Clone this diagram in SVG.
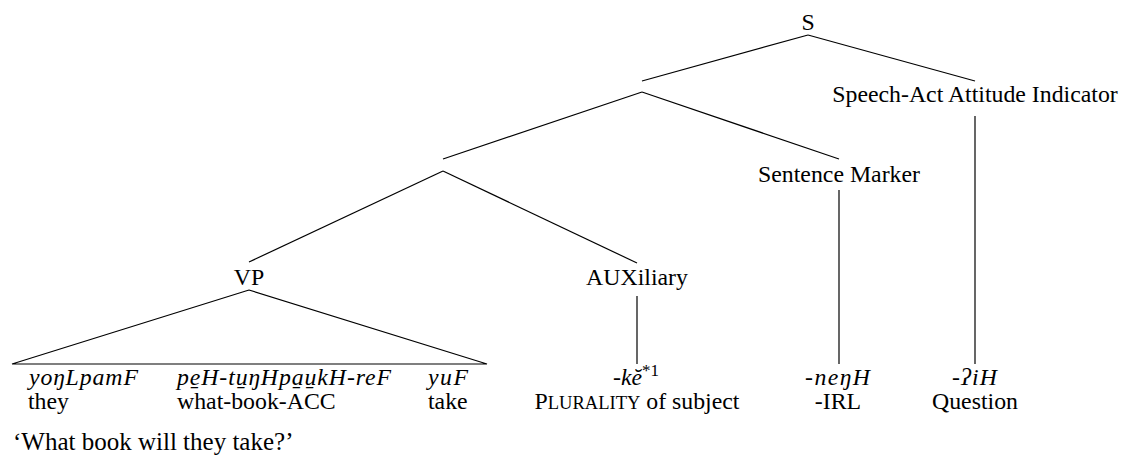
<svg xmlns="http://www.w3.org/2000/svg" width="1130" height="461" viewBox="0 0 1130 461">
<style>
text{font-family:"Liberation Serif","Times New Roman",serif;font-size:23.8px;fill:#000}
.lbl{text-anchor:middle}
.it{font-style:italic}
.ln line, .ln polyline{stroke:#000;stroke-width:1.2;fill:none}
.sc{font-size:18.5px}
.sup{font-size:17px;font-style:normal}
</style>
<rect width="1130" height="461" fill="#fff"/>
<g class="ln" id="connectors">
<line x1="808" y1="35" x2="642" y2="81"/>
<line x1="808" y1="35" x2="975" y2="81"/>
<line x1="642" y1="92" x2="443" y2="159"/>
<line x1="642" y1="92" x2="839" y2="159"/>
<line x1="443" y1="171" x2="249" y2="262"/>
<line x1="443" y1="171" x2="637" y2="263"/>
<line x1="975" y1="116" x2="975" y2="364"/>
<line x1="839" y1="190" x2="839" y2="364"/>
<line x1="637" y1="296" x2="637" y2="364"/>
<polyline points="249,290 12,364 487,364 249,290"/>
</g>
<g id="S"><text class="lbl" x="808" y="30">S</text></g>
<g id="speech-act"><text class="lbl" x="975" y="102">Speech-Act Attitude Indicator</text></g>
<g id="sentence-marker"><text class="lbl" x="839" y="182">Sentence Marker</text></g>
<g id="VP"><text class="lbl" x="249" y="285">VP</text></g>
<g id="AUX"><text class="lbl" x="637" y="285">AUXiliary</text></g>
<g id="they">
<text class="it" x="29" y="385" textLength="109" lengthAdjust="spacing">yoŋLpamF</text>
<text x="28" y="409">they</text>
</g>
<g id="what-book">
<text class="it" x="177" y="385" letter-spacing="0.9">pe̱H-tu̱ŋHpa̱u̱kH-reF</text>
<text x="177" y="409">what-book-ACC</text>
</g>
<g id="take">
<text class="it" x="428" y="385" textLength="40" lengthAdjust="spacing">yuF</text>
<text x="428" y="409">take</text>
</g>
<g id="ke">
<text class="it" x="613" y="385">-kĕ<tspan class="sup" dy="-9">*1</tspan></text>
<text class="lbl" x="637" y="409">P<tspan class="sc">LURALITY</tspan> of subject</text>
</g>
<g id="neng">
<text class="it" x="805" y="385" textLength="65" lengthAdjust="spacing">-neŋH</text>
<text class="lbl" x="838" y="409">-IRL</text>
</g>
<g id="question">
<text class="it" x="952" y="385" textLength="45" lengthAdjust="spacing">-ʔiH</text>
<text class="lbl" x="975" y="409">Question</text>
</g>
<g id="translation"><text x="13" y="450" style="font-size:25px">‘What book will they take?’</text></g>
</svg>
